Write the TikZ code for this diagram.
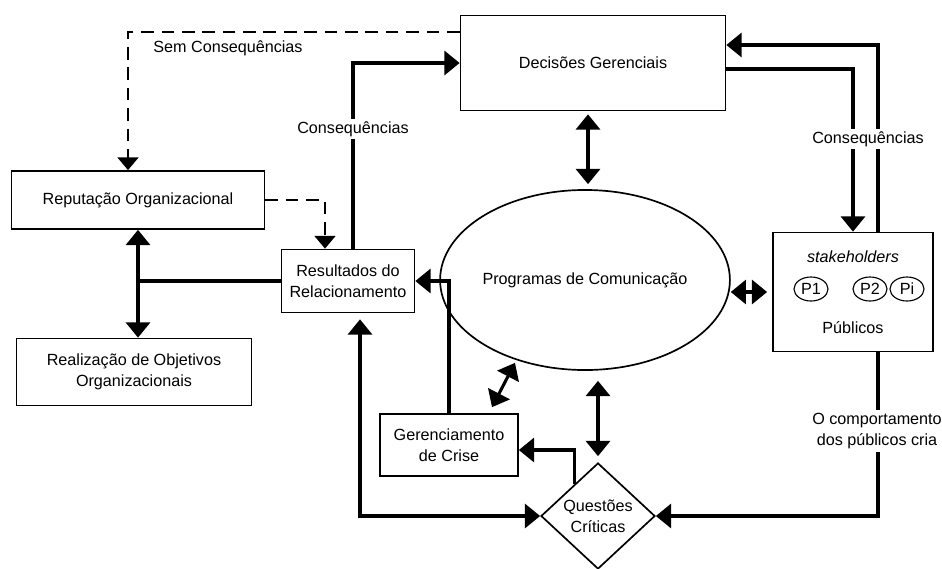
\documentclass[tikz,border=0pt]{standalone}
\usepackage{fontspec}
\setmainfont{Liberation Sans}
\usetikzlibrary{shapes.geometric,arrows.meta,positioning,calc}

\begin{document}
\begin{tikzpicture}[
		x=0.025cm, y=-0.025cm,
		every node/.style={font=\fontsize{11.5}{15}\selectfont},
		box/.style={draw, rectangle, line width=1.2pt, align=center, inner sep=0pt},
		pcirc/.style={draw, ellipse, line width=0.8pt, minimum width=0.85cm, minimum height=0.6cm, inner sep=0pt},
		arr/.style={line width=2.2pt, -{Triangle[width=0.6cm,length=0.38cm]}},
		arrs/.style={line width=2.2pt, {Triangle[width=0.6cm,length=0.38cm]}-{Triangle[width=0.6cm,length=0.38cm]}},
		dasharr/.style={line width=1.8pt, dash pattern=on 9pt off 5.5pt, -{Triangle[width=0.52cm,length=0.32cm]}},
		lbl/.style={fill=white, align=center, inner sep=2pt}
		]
		
		\useasboundingbox (0,0) rectangle (942,568);
		
		% Decisoes Gerenciais
		\node[
		box,
		minimum width=6.625cm,
		minimum height=2.375cm
		] (dec) at (593,63) {Decisões Gerenciais};
		
		% Reputacao Organizacional
		\node[
		box,
		minimum width=6.325cm,
		minimum height=1.45cm
		] (rep) at (138,200) {Reputação Organizacional};
		
		% Resultados do Relacionamento
		\node[
		box,
		minimum width=3.325cm,
		minimum height=1.575cm
		] (res) at (348,281) {Resultados do\\Relacionamento};
		
		% Realizacao de Objetivos
		\node[
		box,
		minimum width=5.875cm,
		minimum height=1.675cm
		] (real) at (134,372) {Realização de Objetivos\\Organizacionais};
		
		% Programas de Comunicacao
		\node[
		draw,
		ellipse,
		line width=1.2pt,
		minimum width=6.4cm,
		minimum height=4.5cm,
		inner sep=0pt
		] (prog) at (585,280) {Programas de Comunicação};
		
		% Publicos
		\node[
		box,
		minimum width=4cm,
		minimum height=2.975cm
		] (pub) at (853,292) {};
		\node (stk) at (853,257) {\itshape stakeholders};
		\node[pcirc] (p1) at (811,289) {P1};
		\node[pcirc] (p2) at (870,289) {P2};
		\node[pcirc] (pi) at (907,289) {Pi};
		\node (publ) at (853,328) {Públicos};
		
		% Gerenciamento de Crise
		\node[
		box,
		minimum width=3.45cm,
		minimum height=1.55cm
		] (ger) at (449,445) {Gerenciamento\\de Crise};
		
		% Questoes Criticas
		\node[
		draw,
		diamond,
		line width=1.2pt,
		minimum width=2.85cm,
		minimum height=2.65cm,
		inner sep=0pt,
		align=center
		] (ques) at (598,516) {Questões\\Críticas};
		
		% Arrows
		\draw[dasharr] ([yshift=0.775cm]dec.west) -| ([xshift=-0.25cm]rep.north);
		
		\draw[dasharr] (rep.east) -| ([xshift=-0.575cm]res.north);
		
		\draw[arr] ([xshift=0.125cm]res.north) |- (dec.west);
		
		\draw[line width=2.2pt] (res.west) -- (res.west -| rep.south);
		
		\draw[arrs] (rep.south) -- (rep.south |- real.north);
		
		\draw[arr] (ger.north) |- (res.east);
		
		\draw[arrs, shorten <=0.15cm] ([xshift=0.3cm]res.south) |- (ques.west);
		
		\draw[arr] ($(ques.north)!0.4!(ques.west)$) |- ([yshift=-0.125cm]ger.east);
		
		\draw[arrs] ([shift={(1.075cm,0.15cm)}]ger.north) -- ([shift={(-1.75cm,0.2cm)}]prog.south);
		
		\draw[arrs, shorten <=0.075cm, shorten >=0.125cm] ([xshift=-0.125cm]dec.south) -- ([xshift=-0.125cm]dec.south |- prog.north);
		
		\draw[arrs, shorten >=0.125cm] (pub.west -| prog.east) -- (pub.west);
		
		\draw[arrs, shorten <=0.25cm, shorten >=0.15cm] (ques.north |- prog.south) -- (ques.north);
		
		\draw[arr] ([yshift=-0.15cm]dec.east) -| (pub.north);
		
		\draw[arr] ([xshift=0.625cm]pub.north) |- ([yshift=0.45cm]dec.east);
		
		\draw[arr] ([xshift=0.625cm]pub.south) |- (ques.east);
		
		% Labels
		\node (semc) at (228,48) {Sem Consequências};
		\node[lbl] (cons1) at (353,129) {Consequências};
		\node[lbl] (cons2) at (868,139) {Consequências};
		\node[lbl] (comp) at (877,431) {O comportamento\\dos públicos cria};
		
	\end{tikzpicture}
\end{document}
